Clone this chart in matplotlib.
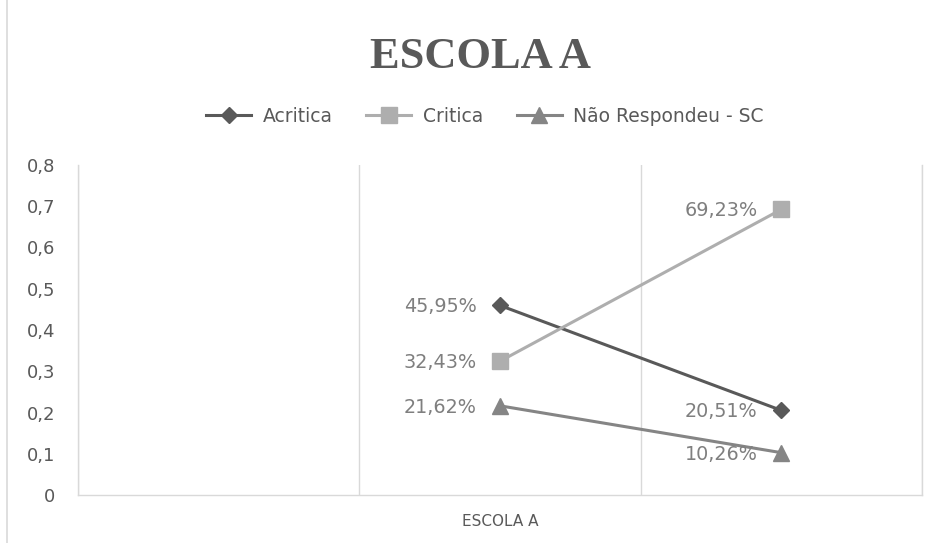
import matplotlib
matplotlib.use("Agg")
import matplotlib.pyplot as plt
import numpy as np

categories = ["", "ESCOLA A", ""]
acritica = [np.nan, 0.4595, 0.2051]
critica = [np.nan, 0.3243, 0.6923]
nao_respondeu = [np.nan, 0.2162, 0.1026]
series_names = ["Acritica", "Critica", "Não Respondeu - SC"]
y_ticks = [0, 0.1, 0.2, 0.3, 0.4, 0.5, 0.6, 0.7, 0.8]

colors = ["#595959", "#AEAEAE", "#858585"]
markers = ["D", "s", "^"]
msizes = [8.5, 11, 11]
txt_col = "#595959"
grid_col = "#D9D9D9"
fam = "DejaVu Sans"

fig = plt.figure(figsize=(9.37, 5.43), dpi=100)
ax = fig.add_axes([78/937, 1-495/543, (922-78)/937, (495-165)/543])

x = np.arange(len(categories)) + 0.5
all_series = [acritica, critica, nao_respondeu]
handles = []
for vals, name, c, m, ms in zip(all_series, series_names, colors, markers, msizes):
    h, = ax.plot(x, vals, color=c, lw=2.2, marker=m, markersize=ms, label=name)
    handles.append(h)
    for xi, v in zip(x, vals):
        if not np.isnan(v):
            ax.annotate(f"{v*100:.2f}%".replace(".", ","), (xi, v),
                        xytext=(-17, -1), textcoords="offset points",
                        ha="right", va="center", fontsize=13.8, color="#7F7F7F",
                        family=fam)

ax.set_xlim(0, 3)
ax.set_ylim(0, 0.8)
ax.set_xticks([0, 1, 2, 3], minor=False)
ax.set_xticklabels([])
ax.set_xticks(x, minor=True)
ax.set_xticklabels(categories, minor=True, fontsize=11, color=txt_col, family=fam)
ax.tick_params(axis="x", which="both", length=0, pad=14)
ax.grid(axis="x", which="major", color=grid_col, lw=1)
ax.set_yticks(y_ticks)
ax.set_yticklabels([("0" if t == 0 else f"{t:.1f}".replace(".", ",")) for t in y_ticks],
                   fontsize=13, color=txt_col, family=fam)
ax.tick_params(axis="y", length=0, pad=16.5)
ax.spines["top"].set_visible(False)
for s in ["left", "right", "bottom"]:
    ax.spines[s].set_color(grid_col)
    ax.spines[s].set_linewidth(1)

fig.text(481/937, 1-57/543, "ESCOLA A", ha="center", va="center", fontsize=32,
         fontweight="bold", family="Liberation Serif", color=txt_col)

fig.legend(handles=handles, loc="center", bbox_to_anchor=(485/937, 1-116/543),
           ncol=3, frameon=False, handlelength=2.4, columnspacing=1.8,
           handletextpad=0.6, labelcolor=txt_col, prop={"family": fam, "size": 13.5})

fig.add_artist(plt.Line2D([7/937, 7/937], [0, 1], transform=fig.transFigure,
                          color=grid_col, lw=1.2))

fig.savefig("out.png", dpi=100, facecolor="white")
